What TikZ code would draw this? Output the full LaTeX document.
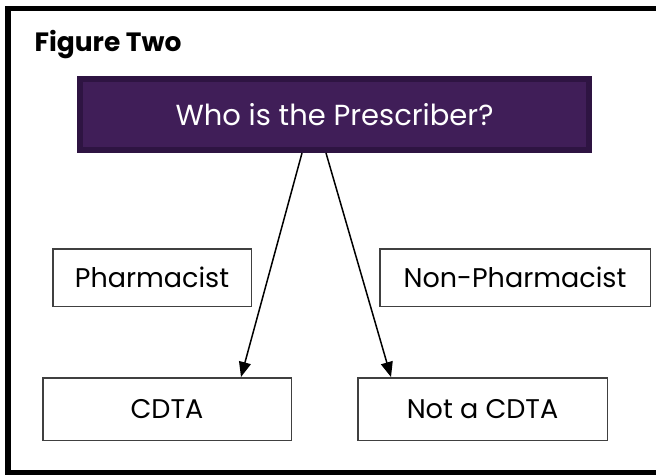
\documentclass[tikz,border=0pt]{standalone}
\usepackage{fontspec}
\setmainfont{Poppins}
\usetikzlibrary{arrows.meta}
\definecolor{questionfill}{RGB}{64,30,88}
\definecolor{questionedge}{RGB}{46,20,66}
\definecolor{answeredge}{RGB}{64,64,64}
\tikzset{
  answer/.style={draw=answeredge,line width=1.5pt,inner sep=0pt,
    font=\fontsize{27}{31}\selectfont},
  flow/.style={-{Triangle[length=15pt,width=12pt]},line width=1.5pt}
}
\begin{document}
\begin{tikzpicture}[x=1pt,y=-1pt]
        \clip (0,0) rectangle (656,475);
        % outer frame
        \draw[line width=5.5pt] (8,8.5) rectangle (670,472.5);
        % title
        \node[anchor=base west,font=\bfseries\fontsize{26.5}{30}\selectfont] at (31,51) (title) {Figure Two};
        % question box
        \node[fill=questionfill,draw=questionedge,line width=6pt,text=white,
          minimum width=509pt,minimum height=71pt,inner sep=0pt,
          font=\fontsize{29}{33}\selectfont] at (334.5,114.5) (prescriber) {Who is the Prescriber?};
        % answer boxes
        \node[answer,minimum width=198.5pt,minimum height=57.5pt] at (152,277.5) (pharm) {Pharmacist};
        \node[answer,minimum width=270.5pt,minimum height=57.5pt] at (515,277.5) (nonpharm) {Non-Pharmacist};
        \node[answer,minimum width=248.5pt,minimum height=62.5pt] at (167,409) (cdta) {CDTA};
        \node[answer,minimum width=249.5pt,minimum height=62.5pt] at (482.5,409) (notcdta) {Not a CDTA};
        % draw arrows
        \draw[flow] ([xshift=-32.5pt]prescriber.south) -- ([xshift=74pt]cdta.north);
        \draw[flow] ([xshift=-8.5pt]prescriber.south) -- ([xshift=-91.5pt]notcdta.north);
    \end{tikzpicture}
\end{document}
